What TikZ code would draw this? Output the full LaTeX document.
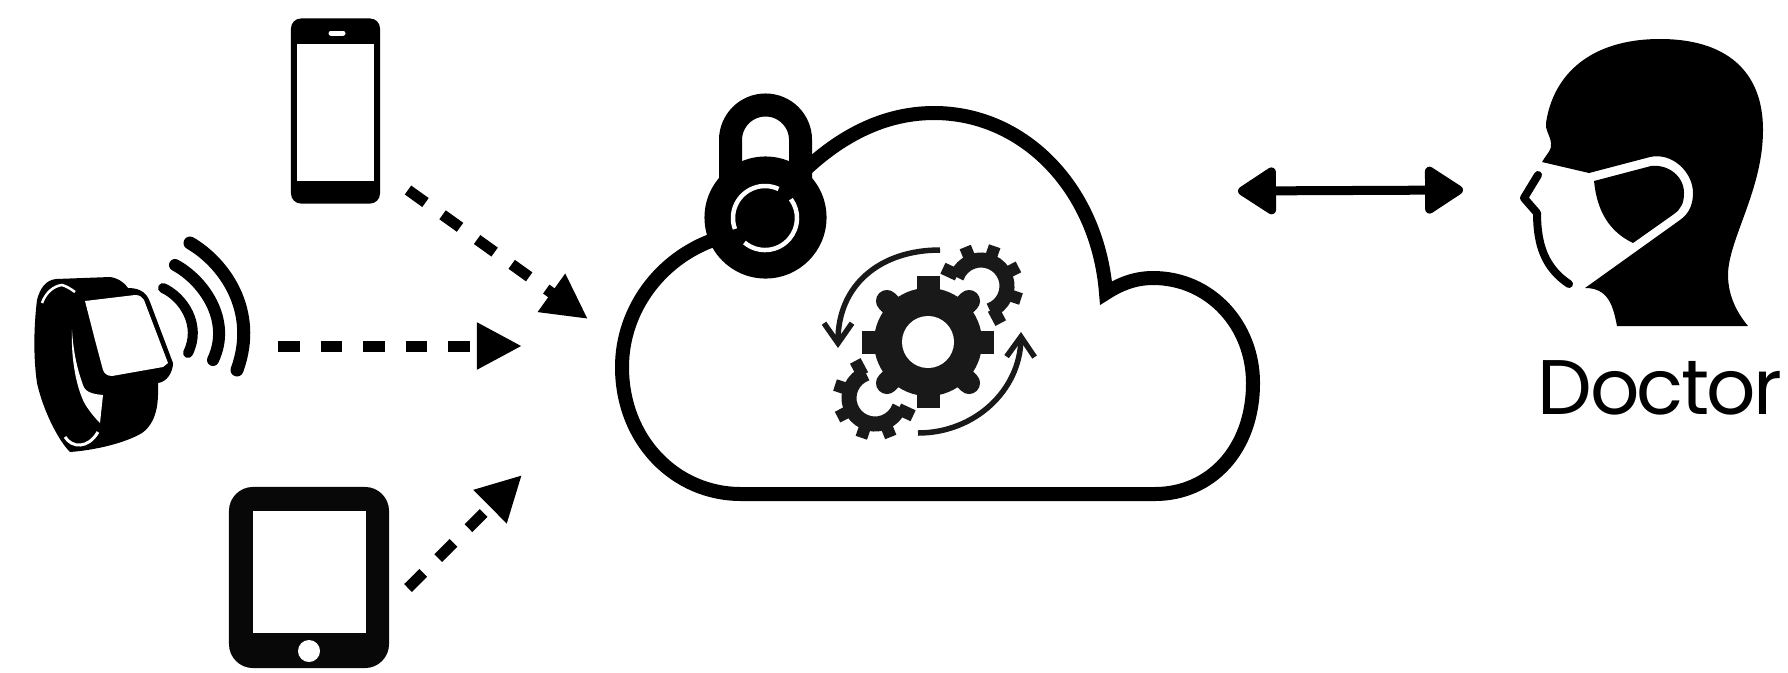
\documentclass[tikz,border=0pt]{standalone}
\usepackage{fontspec}
\setmainfont{Poppins}[LetterSpace=-3.5]
\usetikzlibrary{arrows.meta}

\begin{document}
\begin{tikzpicture}[x=0.01cm,y=-0.01cm,
  device/.style = {fill=black, rounded corners=.1cm, inner sep=0, outer sep=0},
  screen/.style = {fill=white, inner sep=0, outer sep=0},
  dasharrow/.style = {line width=.11cm, dash pattern=on .215cm off .21cm, -{Triangle[length=.45cm,width=.44cm]}},
  gearmark/.style = {color=black!90},
  turnarrow/.style = {gearmark, line width=.055cm, -{Straight Barb[length=.2cm,width=.28cm]}},
  lockring/.style = {white, line width=.045cm}]
\useasboundingbox (0,0) rectangle (1788,672);
% phone
\node[device, minimum width=.89cm, minimum height=1.85cm] (phone) at (335.5,111) {};
\node[screen, minimum width=.77cm, minimum height=1.37cm] (phonescreen) at (335.5,112.5) {};
\draw[white, line width=.05cm, line cap=round] (331,33) -- (343,33);
% tablet
\node[device, fill=black!97, rounded corners=.24cm, minimum width=1.6cm, minimum height=1.81cm] (tablet) at (309,577.5) {};
\node[screen, minimum width=1.13cm, minimum height=1.22cm] (tabletscreen) at (309.5,572) {};
\fill[white] (309,651) circle[radius=.11cm];
% watch
\fill[black] (37,300) .. controls (40,288) and (46,280) .. (56,279) -- (110,277) .. controls (118,278) and (125,283) .. (128,288) .. controls (136,288) and (146,290) .. (150,302) -- (173,363) .. controls (173,372) and (167,382) .. (158,383) .. controls (158,395) and (160,420) .. (142,433) .. controls (125,443) and (96,450) .. (70,452) .. controls (58,440) and (43,410) .. (37,383) .. controls (33,355) and (34,325) .. (37,300) -- cycle;
\fill[white] (85,301) -- (135,295) .. controls (140,295) and (142,297) .. (144,300) -- (168,363) -- (163,367) -- (112,376) .. controls (107,376) and (104,373) .. (103,370) -- (95,340) -- cycle;
\fill[white] (72,330) .. controls (73,345) and (75,363) .. (83,385) .. controls (85,392) and (92,394) .. (103,395) -- (100,423) .. controls (92,415) and (85,405) .. (83,400) .. controls (75,382) and (71,355) .. (72,330) -- cycle;
\draw[white, line width=.025cm] (42,303) .. controls (46,292) and (54,286) .. (62,285) .. controls (66,286) and (71,289) .. (75,292);
\draw[white, line width=.03cm] (65,437) .. controls (72,448) and (88,449) .. (98,432);
\draw[line width=.1cm, line cap=round] (163,288) .. controls (183,297) and (202,325) .. (188,353);
\draw[line width=.12cm, line cap=round] (175,265) .. controls (203,280) and (232,320) .. (213,360);
\draw[line width=.13cm, line cap=round] (190,243) .. controls (223,262) and (259,310) .. (237,370);
% data arrows
\coordinate (phoneout) at (408,190); \coordinate (phonein) at (588,319);
\coordinate (watchout) at (278,346); \coordinate (watchin) at (522,346);
\coordinate (tabletout) at (408,588); \coordinate (tabletin) at (522,475);
\draw[dasharrow] (phoneout) -- (phonein);
\draw[dasharrow] (watchout) -- (watchin);
\draw[dasharrow] (tabletout) -- (tabletin);
% cloud
\draw[line width=.14cm] (741,494) -- (1155,494) .. controls (1210,494) and (1253,450) .. (1253,383) .. controls (1253,325) and (1210,278) .. (1153,278) .. controls (1135,278) and (1120,284) .. (1106,293) .. controls (1098,190) and (1025,113) .. (934,113) .. controls (880,113) and (832,140) .. (790,185) -- (716,239) .. controls (660,258) and (622,310) .. (622,367) .. controls (622,440) and (675,494) .. (741,494) -- cycle;
% lock
\draw[line width=.23cm] (730.5,217) -- (730.5,140) arc[start angle=180,end angle=0,radius=.35cm] -- (800.5,217);
\fill[black] (765.5,217.5) circle[radius=.61cm];
\draw[lockring] ([shift={(65:.32cm)}]765,218) arc[start angle=65,end angle=200,radius=.32cm];
\draw[lockring] ([shift={(230:.32cm)}]765,218) arc[start angle=230,end angle=396,radius=.32cm];
% gears
\foreach \ga in {0,90,180,270} \draw[gearmark, line width=.23cm] (928,342) -- ([shift={(\ga:.66cm)}]928,342);
\foreach \ga in {45,135,225,315} \draw[gearmark, line width=.22cm, line cap=round] (928,342) -- ([shift={(\ga:.58cm)}]928,342);
\fill[gearmark] (928,342) circle[radius=.54cm];
\fill[white] (928,342) circle[radius=.26cm];
\foreach \gx/\gy/\gr in {981/286/0,875/398/180}{
  \draw[gearmark, line width=.15cm] ([shift={(\gr-70:.26cm)}]\gx,\gy) arc[start angle=\gr-70,end angle=\gr+160,radius=.26cm];
  \foreach \ga in {-62,-18,27,71,112,155} \draw[gearmark, line width=.12cm] ([shift={(\gr+\ga:.26cm)}]\gx,\gy) -- ([shift={(\gr+\ga:.42cm)}]\gx,\gy);
}
\draw[turnarrow] (940,250) .. controls (880,250) and (838,285) .. (838,348);
\draw[turnarrow] (918,433) .. controls (975,433) and (1020,390) .. (1021,332);
% doctor
\fill[black] (1542,162) .. controls (1548,152) and (1552,150) .. (1551,143) .. controls (1550,135) and (1545,130) .. (1546,123) .. controls (1553,75) and (1590,39) .. (1660,39) .. controls (1725,39) and (1763,70) .. (1763,130) .. controls (1763,190) and (1728,240) .. (1728,275) .. controls (1728,297) and (1738,314) .. (1748,326) -- (1617,326) .. controls (1613,305) and (1608,288) .. (1585,288) -- (1680,220) .. controls (1690,213) and (1693,203) .. (1693,193) .. controls (1693,172) and (1672,152) .. (1650,157) -- (1589,173) -- cycle;
\fill[black] (1594,181) -- (1651,166) .. controls (1668,164) and (1684,176) .. (1684,193) .. controls (1684,203) and (1681,209) .. (1674,214) -- (1633,243) .. controls (1610,232) and (1597,212) .. (1594,181) -- cycle;
\draw[line width=.08cm, line cap=round, line join=round] (1538,175) -- (1524,198) -- (1537,213) .. controls (1537,245) and (1545,268) .. (1569,284);
\node[inner sep=0, anchor=base, font=\fontsize{22}{22}\selectfont] (doctor) at (1660,414) {Doctor};
% link
\coordinate (cloudlink) at (1238,191); \coordinate (doctorlink) at (1463,190);
\draw[line width=.09cm, {Triangle[length=.42cm,width=.52cm,round]}-{Triangle[length=.42cm,width=.52cm,round]}] (cloudlink) -- (doctorlink);
\end{tikzpicture}
\end{document}
